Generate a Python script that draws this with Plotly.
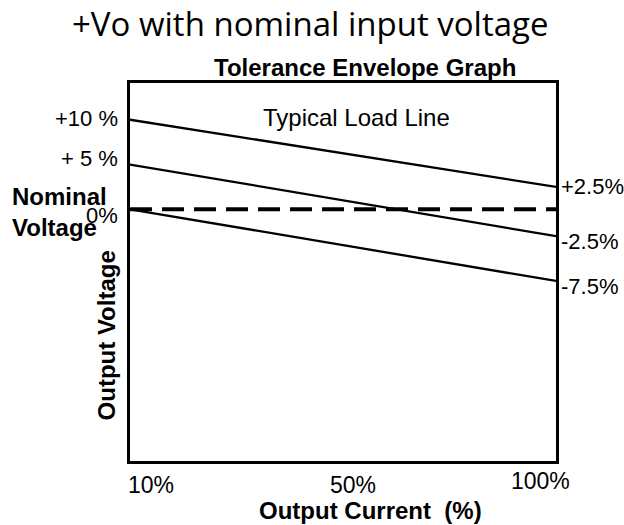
import plotly.graph_objects as go

# ---- data ----
current_pct = [10, 100]                 # output current (%), start / end of each line
line_upper = [10, 2.5]                  # +10 % -> +2.5 %
line_middle = [5, -3.0]                 # +5 % -> -2.5 %
line_lower = [0, -8.0]                  # 0 % -> -7.5 %
nominal = [0, 0]                        # nominal voltage (dashed)

left_labels = ["+10 %", "+ 5 %", "0%"]
left_label_vals = [10, 5, 0]
right_labels = ["+2.5%", "-2.5%", "-7.5%"]
right_label_vals = [2.5, -3.0, -8.0]
x_tick_labels = ["10%", "50%", "100%"]

# ---- layout geometry (pixels in the 624x525 window) ----
W, H = 624, 525
L, R, T, B = 129.5, 555.8, 83.3, 461     # plot area in window pixels
YMIN, YMAX = -28.1, 14.1

def px_x(p):
    return (p - L) / (R - L)

def px_y(p):
    return (B - p) / (B - T)

ARIAL = "Liberation Sans, Arial, sans-serif"

fig = go.Figure()
for ys in (line_upper, line_middle, line_lower):
    fig.add_trace(go.Scatter(x=current_pct, y=ys, mode="lines",
                             line=dict(color="black", width=2.3),
                             showlegend=False, hoverinfo="skip"))
fig.add_trace(go.Scatter(x=current_pct, y=nominal, mode="lines",
                         line=dict(color="black", width=4, dash="22px,10px"),
                         showlegend=False, hoverinfo="skip"))

ann = []
# title and subtitle
ann.append(dict(text="+Vo with nominal input voltage", xref="paper", yref="paper",
                x=px_x(310), y=px_y(24), xanchor="center", yanchor="middle",
                showarrow=False, font=dict(family="Open Sans, sans-serif", size=33, color="black")))
ann.append(dict(text="<b>Tolerance Envelope Graph</b>", xref="paper", yref="paper",
                x=px_x(365), y=px_y(68), xanchor="center", yanchor="middle",
                showarrow=False, font=dict(family=ARIAL, size=24, color="black")))
ann.append(dict(text="Typical Load Line", xref="paper", yref="paper",
                x=px_x(356), y=px_y(118), xanchor="center", yanchor="middle",
                showarrow=False, font=dict(family=ARIAL, size=24, color="black")))
# left labels
left_shift = [1, 6, -6]
for txt, v, s in zip(left_labels, left_label_vals, left_shift):
    ann.append(dict(text=txt, xref="paper", yref="y", x=px_x(119), y=v, yshift=s,
                    xanchor="right", yanchor="middle", showarrow=False,
                    font=dict(family=ARIAL, size=22, color="black")))
ann.append(dict(text="<b>Nominal</b>", xref="paper", yref="paper", x=px_x(9), y=px_y(197),
                xanchor="left", yanchor="middle", showarrow=False,
                font=dict(family=ARIAL, size=24, color="black")))
ann.append(dict(text="<b>Voltage</b>", xref="paper", yref="paper", x=px_x(9), y=px_y(228),
                xanchor="left", yanchor="middle", showarrow=False,
                font=dict(family=ARIAL, size=24, color="black")))
# right labels
right_shift = [0, -5, -6]
for txt, v, s in zip(right_labels, right_label_vals, right_shift):
    ann.append(dict(text=txt, xref="paper", yref="y", x=px_x(559), y=v, yshift=s,
                    xanchor="left", yanchor="middle", showarrow=False,
                    font=dict(family=ARIAL, size=22, color="black")))
# x tick labels
for txt, cx, cy in zip(x_tick_labels, [151, 353, 540], [485, 485, 481]):
    ann.append(dict(text=txt, xref="paper", yref="paper", x=px_x(cx), y=px_y(cy),
                    xanchor="center", yanchor="middle", showarrow=False,
                    font=dict(family=ARIAL, size=23, color="black")))
# axis titles
ann.append(dict(text="<b>Output Current  (%)</b>", xref="paper", yref="paper",
                x=px_x(370), y=px_y(510), xanchor="center", yanchor="middle",
                showarrow=False, font=dict(family=ARIAL, size=24, color="black")))
ann.append(dict(text="<b>Output Voltage</b>", xref="paper", yref="paper",
                x=px_x(106), y=px_y(336), xanchor="center", yanchor="middle",
                textangle=-90, showarrow=False, font=dict(family=ARIAL, size=24, color="black")))

fig.update_layout(
    width=W, height=H,
    margin=dict(l=L, r=W - R, t=T, b=H - B, pad=0),
    paper_bgcolor="white", plot_bgcolor="white",
    annotations=ann,
    xaxis=dict(range=[10, 100], showgrid=False, zeroline=False, showticklabels=False,
               ticks="", showline=True, linecolor="black", linewidth=2.5, mirror=True),
    yaxis=dict(range=[YMIN, YMAX], showgrid=False, zeroline=False, showticklabels=False,
               ticks="", showline=True, linecolor="black", linewidth=2.5, mirror=True),
)

fig.write_html("out.html", config={"displayModeBar": False},
               post_script="document.body.style.margin='0px';document.body.style.overflow='hidden';")
